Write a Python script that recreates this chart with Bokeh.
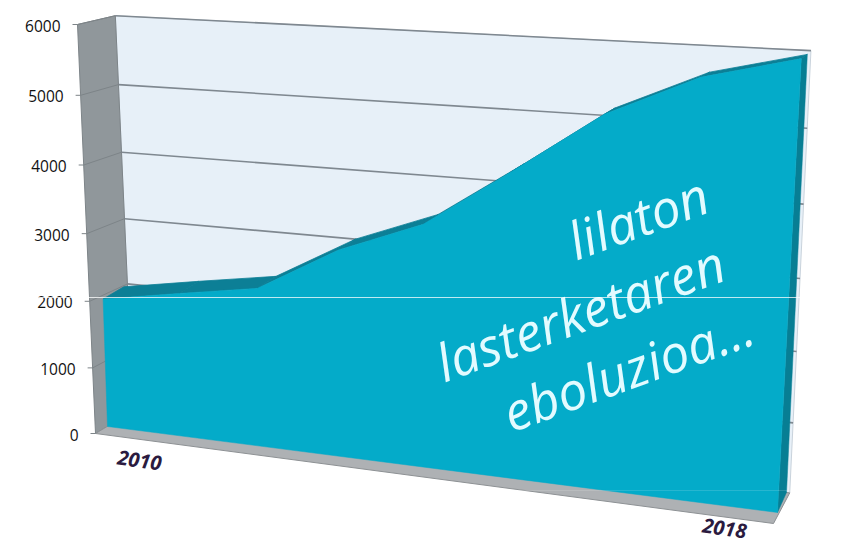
import numpy as np
from bokeh.plotting import figure
from bokeh.models import Range1d, Span
from bokeh.core.properties import value
from bokeh.embed import file_html
from bokeh.resources import INLINE

years = [2010, 2011, 2012, 2013, 2014, 2015, 2016, 2017, 2018]
runners = [1950, 2150, 2340, 3000, 3460, 4270, 5110, 5655, 5950]
y_ticks = [0, 1000, 2000, 3000, 4000, 5000, 6000]
x_labels = ["2010", "2018"]
note_lines = ["lilaton", "lasterketaren", "eboluzioa..."]

Y_MAX = 6000.0


def homography(bl, br, tr, tl):
    """Perspective map from unit square (t, v) to a screen quad."""
    x0, y0 = bl
    x1, y1 = br
    x2, y2 = tr
    x3, y3 = tl
    dx1, dx2, sx = x1 - x2, x3 - x2, x0 - x1 + x2 - x3
    dy1, dy2, sy = y1 - y2, y3 - y2, y0 - y1 + y2 - y3
    den = dx1 * dy2 - dx2 * dy1
    g = (sx * dy2 - dx2 * sy) / den
    h = (dx1 * sy - sx * dy1) / den
    a, b, c = x1 - x0 + g * x1, x3 - x0 + h * x3, x0
    d, e, f = y1 - y0 + g * y1, y3 - y0 + h * y3, y0

    def project(year, val):
        t = (np.asarray(year, float) - years[0]) / (years[-1] - years[0])
        v = np.asarray(val, float) / Y_MAX
        w = g * t + h * v + 1
        return (a * t + b * v + c) / w, (d * t + e * v + f) / w

    return project


outer = homography((95, 433), (773, 523), (790, 20), (77, 24))
front = homography((107, 426), (777, 512), (801, 54), (93, 20))
back = homography((129, 410), (786, 492), (807, 50), (111, 15))

WALL_L, WALL_R = years[0] + 0.05, years[-1] + 0.035

p = figure(width=844, height=544, x_range=Range1d(0, 844), y_range=Range1d(544, 0),
           output_backend="svg", toolbar_location=None, min_border=0,
           outline_line_color=None, background_fill_color="white")
p.xaxis.visible = False
p.yaxis.visible = False
p.grid.visible = False


def poly(*pts):
    return [float(q[0]) for q in pts], [float(q[1]) for q in pts]


# walls and floor
xs, ys = poly(back(WALL_L, 0), back(WALL_R, 0), back(WALL_R, Y_MAX), back(WALL_L, Y_MAX))
p.patch(xs, ys, fill_color="#E7F0F8", line_color="#C9D3DC", line_width=1)

xs, ys = poly(outer(years[0], 0), back(WALL_L, 0), back(WALL_L, Y_MAX), outer(years[0], Y_MAX))
p.patch(xs, ys, fill_color="#90979B", line_color="#7D8488", line_width=1)

xs, ys = poly(outer(years[0], 0), outer(years[-1], 0), back(WALL_R, 0), back(WALL_L, 0))
p.patch(xs, ys, fill_color="#AEB1B4", line_color="#8D9194", line_width=1)

# gridlines on the back wall and on the left wall, tick marks
tk = np.array(y_ticks, float)
bx0, by0 = back(WALL_L, tk)
bx1, by1 = back(WALL_R, tk)
ox, oy = outer(years[0], tk)
mask = tk > 0
p.segment(bx0[mask], by0[mask], bx1[mask], by1[mask], line_color="#7F8890", line_width=1.6)
p.segment(ox[mask], oy[mask], bx0[mask], by0[mask], line_color="#7D8488", line_width=1)
p.segment(ox - 5, oy, ox, oy, line_color="#7D8488", line_width=1)

# extruded area: dark top and right sides
fx, fy = front(years, runners)
kx, ky = back(years, runners)
quad_x = [[fx[i], fx[i + 1], kx[i + 1], kx[i]] for i in range(len(years) - 1)]
quad_y = [[fy[i], fy[i + 1], ky[i + 1], ky[i]] for i in range(len(years) - 1)]
p.patches([[float(c) for c in q] for q in quad_x], [[float(c) for c in q] for q in quad_y],
          fill_color="#0C7F96", line_color="#0C7F96", line_width=0.8)

xs, ys = poly(front(years[-1], 0), back(years[-1], 0), (kx[-1], ky[-1]), (fx[-1], fy[-1]))
p.patch(xs, ys, fill_color="#077E94", line_color="#077E94", line_width=0.5)

# front face of the area
b0 = front(years[0], 0)
b1 = front(years[-1], 0)
p.patch([float(b0[0])] + [float(c) for c in fx] + [float(b1[0])],
        [float(b0[1])] + [float(c) for c in fy] + [float(b1[1])],
        fill_color="#04ABC9", line_color="#04ABC9", line_width=0.5)

# stray light lines of the picture
p.add_layout(Span(location=297, dimension="width", line_color="white", line_alpha=0.75, line_width=1))
p.add_layout(Span(location=490, dimension="width", line_color="white", line_alpha=0.14, line_width=1))

# value labels, running along the slanted edge of the left wall
p.text(ox - 17, oy + 1, text=[str(t) for t in y_ticks], text_align="right", text_baseline="middle",
       text_font=value("Open Sans"), text_font_size="15.5px", text_color="#111111")

# category labels
lx, ly = outer(np.array([years[0], years[-1]]), np.array([0, 0]))
p.text(lx + np.array([44, -49]), ly + np.array([27, 5]), text=x_labels, text_align="center",
       text_baseline="middle", angle=-8, angle_units="deg", text_font=value("Open Sans"),
       text_font_size="20px", text_font_style="bold italic", text_color="#2B1B3F")

# note written on the area
p.text([569, 437, 504], [241, 363, 413], text=note_lines, text_align="left", text_baseline="alphabetic",
       angle=20, angle_units="deg", text_font=value("Open Sans"), text_font_size="52px",
       text_font_style="italic", text_color="#E3FBFF")

open("out.html", "w").write(file_html(p, INLINE))
